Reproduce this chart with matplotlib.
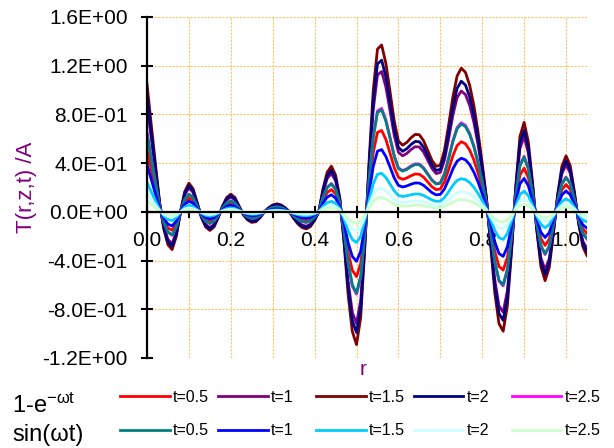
import matplotlib
matplotlib.use('Agg')
import matplotlib.pyplot as plt
import numpy as np
from matplotlib.ticker import MultipleLocator, FuncFormatter

plt.rcParams['font.family'] = ['Liberation Sans', 'DejaVu Sans']
plt.rcParams['mathtext.fontset'] = 'custom'
plt.rcParams['mathtext.rm'] = 'Liberation Sans'
plt.rcParams['mathtext.it'] = 'Liberation Sans'

# radial positions r (step 0.01) and the shape of the curves (t=1.5, 1-e^-wt curve)
r = np.round(np.arange(0, 1.051, 0.01), 2)
profile = [1.05, 0.72, 0.40, 0.08, -0.14, -0.27, -0.31, -0.20, 0.00, 0.166,
           0.235, 0.19, 0.073, -0.047, -0.124, -0.153, -0.124, -0.047, 0.045, 0.117,
           0.145, 0.117, 0.045, -0.024, -0.066, -0.087, -0.081, -0.048, 0.0, 0.033,
           0.057, 0.066, 0.057, 0.033, 0.0, -0.054, -0.099, -0.129, -0.14, -0.121,
           -0.07, 0.0, 0.19, 0.325, 0.375, 0.303, 0.116, -0.243, -0.679, -0.982,
           -1.09, -0.866, -0.282, 0.414, 1.0, 1.336, 1.37, 1.22, 0.987, 0.746,
           0.582, 0.547, 0.57, 0.608, 0.636, 0.633, 0.584, 0.504, 0.423, 0.374,
           0.384, 0.507, 0.716, 0.943, 1.115, 1.18, 1.145, 1.04, 0.875, 0.656,
           0.398, 0.116, -0.269, -0.664, -0.918, -0.98, -0.77, -0.326, 0.207, 0.618,
           0.735, 0.575, 0.243, -0.146, -0.449, -0.565, -0.457, -0.175, 0.142, 0.372,
           0.46, 0.379, 0.163, -0.093, -0.285, -0.36]

t_labels = ['t=0.5', 't=1', 't=1.5', 't=2', 't=2.5']
# relative amplitude of each curve
amp_exp = [0.488, 0.841, 1.0, 0.909, 0.62]
amp_sin = [0.611, 0.373, 0.231, 0.141, 0.085]
colors_exp = ['#FF0000', '#800080', '#800000', '#000080', '#FF00FF']
colors_sin = ['#008080', '#0000FF', '#00CCFF', '#CCFFFF', '#CCFFCC']

fig = plt.figure(figsize=(6.14, 4.48), dpi=100)
ax = fig.add_axes([0.2394, 0.2009, 0.7166, 0.7612])

base = np.array(profile)
lines_exp = []
for a, c, lab in zip(amp_exp, colors_exp, t_labels):
    ln, = ax.plot(r, base * a, color=c, lw=2.0, label=lab, solid_joinstyle='round')
    lines_exp.append(ln)
lines_sin = []
for a, c, lab in zip(amp_sin, colors_sin, t_labels):
    ln, = ax.plot(r, base * a, color=c, lw=2.0, label=lab, solid_joinstyle='round')
    lines_sin.append(ln)

ax.set_xlim(0, 1.05)
ax.set_ylim(-1.2, 1.6)
for s in ['top', 'right']:
    ax.spines[s].set_visible(False)
ax.spines['bottom'].set_position(('data', 0))
ax.spines['left'].set_linewidth(1.6)
ax.spines['bottom'].set_linewidth(1.6)

ax.yaxis.set_major_locator(MultipleLocator(0.4))
ax.yaxis.set_major_formatter(FuncFormatter(lambda v, p: f'{v:.1E}'))
ax.xaxis.set_major_locator(MultipleLocator(0.2))
ax.xaxis.set_minor_locator(MultipleLocator(0.1))
ax.xaxis.set_major_formatter(FuncFormatter(lambda v, p: f'{v:.1f}'))
ax.tick_params(axis='both', which='both', direction='inout', length=8, width=1.5,
               labelsize=15)
ax.tick_params(axis='x', pad=10)
ax.tick_params(axis='y', pad=10)

grid_kw = dict(color='#FFC266', linestyle=(0, (2, 1.2)), linewidth=0.8)
ax.grid(which='both', axis='x', **grid_kw)
ax.grid(which='major', axis='y', **grid_kw)
ax.set_axisbelow(True)

ax.set_ylabel('T(r,z,t) /A', color='#800080', fontsize=16, labelpad=4)
ax.set_xlabel('r', color='#800080', fontsize=15)
ax.xaxis.set_label_coords(0.49, -0.005)

# legend: one small legend per column, two rows
col_x = [120, 218, 316, 413.5, 511.5]
for i, x in enumerate(col_x):
    fig.legend(handles=[lines_exp[i], lines_sin[i]], loc='center left',
               bbox_to_anchor=(x / 614, 1 - 414 / 448), frameon=False,
               fontsize=11.5, handlelength=3.13, handletextpad=0.2,
               borderpad=0, borderaxespad=0, labelspacing=1.15)

fig.text(12 / 614, 1 - 413 / 448, r'$\mathregular{1\text{-}e^{-\omega t}}$',
         fontsize=17, va='baseline')
fig.text(12 / 614, 1 - 441 / 448, 'sin(\u03c9t)', fontsize=17, va='baseline')

fig.savefig('out.png', dpi=100)
